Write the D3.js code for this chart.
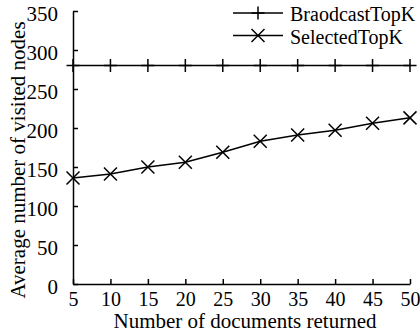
<!DOCTYPE html>
<html>
<head>
<meta charset="utf-8">
<script src="https://cdn.jsdelivr.net/npm/d3@7"></script>
<style>
  body { margin: 0; background: #fff; }
</style>
</head>
<body>
<div class="chart"></div>
<script>
var svgWidth = 420;
var svgHeight = 333;

var margin = { top: 11, right: 10, bottom: 49, left: 73 };
var width = svgWidth - margin.left - margin.right;
var height = svgHeight - margin.top - margin.bottom;
var serif = "Liberation Serif";

// data
var docsReturned = [5, 10, 15, 20, 25, 30, 35, 40, 45, 50];
var broadcastTopK = [280, 280, 280, 280, 280, 280, 280, 280, 280, 280];
var selectedTopK = [136, 141, 150, 156, 169, 183, 191, 197, 206, 213];
var yTicks = [0, 50, 100, 150, 200, 250, 300, 350];
var seriesNames = ["BraodcastTopK", "SelectedTopK"];

var svg = d3.select(".chart")
  .append("svg")
  .attr("width", svgWidth)
  .attr("height", svgHeight);

var chartGroup = svg.append("g")
  .attr("transform", `translate(${margin.left}, ${margin.top})`);

var xScale = d3.scaleLinear().domain([5, 50]).range([0, width]);
var yScale = d3.scaleLinear().domain([0, 350]).range([height, 0]);

// axes: ticks drawn inward
var bottomAxis = d3.axisBottom(xScale)
  .tickValues(docsReturned)
  .tickSize(-5)
  .tickPadding(8)
  .tickSizeOuter(0);
var leftAxis = d3.axisLeft(yScale)
  .tickValues(yTicks)
  .tickSize(-5)
  .tickPadding(15)
  .tickSizeOuter(0);

var xAxis = chartGroup.append("g")
  .attr("transform", `translate(0, ${height})`)
  .call(bottomAxis);
var yAxis = chartGroup.append("g").call(leftAxis);
yAxis.selectAll("text").attr("dy", "0.47em");

[xAxis, yAxis].forEach(function(ax) {
  ax.attr("font-family", serif).attr("font-size", 21);
  ax.selectAll("path, line").attr("stroke", "#000").attr("stroke-width", 1.5);
  ax.selectAll("text").attr("fill", "#000");
});
xAxis.attr("font-size", 20);

// marker helpers
function plusPath(s) {
  return `M${-s},0H${s}M0,${-s}V${s}`;
}
function crossPath(s) {
  return `M${-s},${-s}L${s},${s}M${-s},${s}L${s},${-s}`;
}

var line = d3.line()
  .x((d, i) => xScale(docsReturned[i]))
  .y(d => yScale(d));

var series = [
  { name: seriesNames[0], values: broadcastTopK, marker: plusPath(6.5) },
  { name: seriesNames[1], values: selectedTopK, marker: crossPath(6.5) }
];

series.forEach(function(s) {
  chartGroup.append("path")
    .datum(s.values)
    .attr("fill", "none")
    .attr("stroke", "#000")
    .attr("stroke-width", 1.5)
    .attr("d", line);

  chartGroup.selectAll(null)
    .data(s.values)
    .enter()
    .append("path")
    .attr("transform", (d, i) => `translate(${xScale(docsReturned[i])}, ${yScale(d)})`)
    .attr("d", s.marker)
    .attr("stroke", "#000")
    .attr("stroke-width", 1.5)
    .attr("fill", "none");
});

// legend
var legend = svg.append("g").attr("transform", "translate(233, 13)");
series.forEach(function(s, i) {
  var row = legend.append("g").attr("transform", `translate(0, ${i * 22.5})`);
  row.append("line")
    .attr("x1", 0).attr("x2", 50)
    .attr("stroke", "#000").attr("stroke-width", 1.5);
  row.append("path")
    .attr("transform", "translate(25, 0)")
    .attr("d", s.marker)
    .attr("stroke", "#000").attr("stroke-width", 1.5);
  row.append("text")
    .attr("x", 57)
    .attr("y", 8)
    .attr("font-family", serif)
    .attr("font-size", 20)
    .text(s.name);
});

// axis titles
svg.append("text")
  .attr("x", 245)
  .attr("y", 328)
  .attr("text-anchor", "middle")
  .attr("font-family", serif)
  .attr("font-size", 21)
  .text("Number of documents returned");

svg.append("text")
  .attr("transform", "rotate(-90)")
  .attr("x", -160)
  .attr("y", 25)
  .attr("text-anchor", "middle")
  .attr("font-family", serif)
  .attr("font-size", 21)
  .text("Average number of visited nodes");
</script>
</body>
</html>
